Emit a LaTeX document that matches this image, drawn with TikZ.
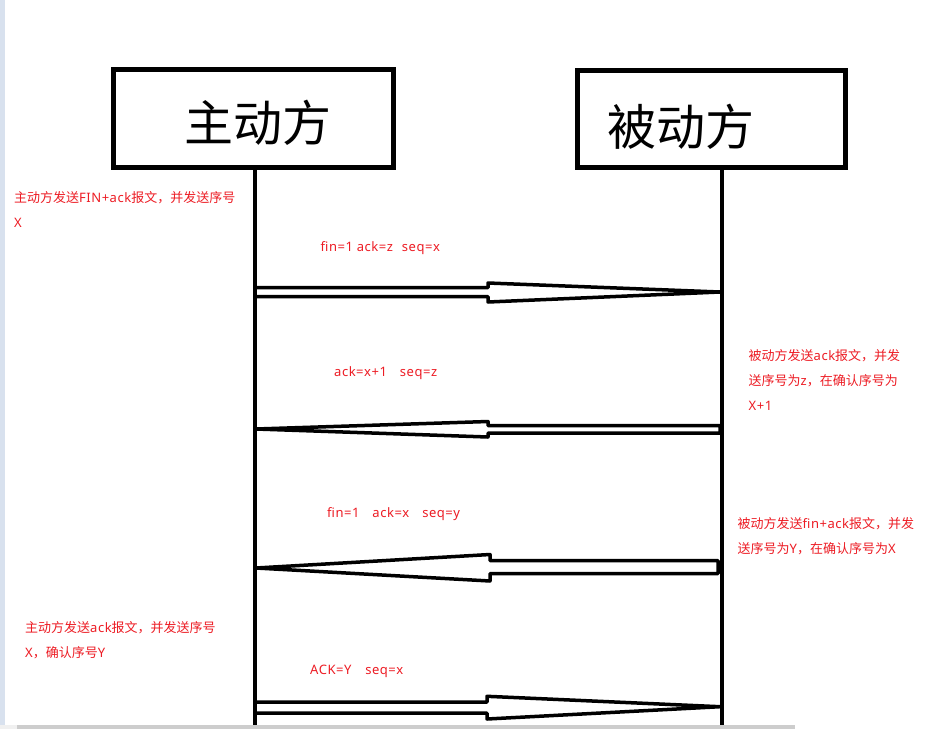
\documentclass[tikz,border=0pt]{standalone}
\usepackage{fontspec}
\newfontfamily\cjk{Noto Sans CJK SC}
\newfontfamily\lat[LetterSpace=4]{Noto Sans}
\definecolor{msred}{RGB}{237,28,36}
\definecolor{stripblue}{RGB}{216,225,238}
\definecolor{bargray}{RGB}{205,205,205}
\definecolor{barlight}{RGB}{240,240,240}
\begin{document}
\begin{tikzpicture}[x=1pt,y=-1pt,
  actor/.style={draw=black,line width=5pt,minimum width=280pt,minimum height=98pt,inner sep=0pt,fill=white},
  bigtxt/.style={font=\cjk\fontsize{49}{55}\selectfont,inner sep=0pt,anchor=center},
  note/.style={font=\cjk\fontsize{13}{25}\selectfont,text=msred,inner sep=0pt,anchor=base west,align=left},
  msg/.style={font=\lat\fontsize{13}{15}\selectfont,text=msred,inner sep=0pt,anchor=base west},
  life/.style={line width=4pt},
  arrowshape/.style={draw=black,line width=3.5pt,line join=round,fill=white}
]
\useasboundingbox (0,0) rectangle (945,729);
\fill[white] (0,0) rectangle (945,729);
% window chrome
\fill[stripblue] (0,0) rectangle (5,725);
\fill[barlight] (0,725) rectangle (17,729);
\fill[bargray] (17,725) rectangle (795,729);

% actors
\node[actor] (A) at (253,118) {};
\node[actor,minimum width=268pt,minimum height=97pt] (B) at (711,118.5) {};
\node[bigtxt] (At) at (258,122.5) {主动方};
\node[bigtxt] (Bt) at (681,127) {被动方};

% lifelines
\coordinate (Aend) at (255,725);
\coordinate (Bend) at (722,725);
\draw[life] (255,169) -- (Aend);
\draw[life] (722,169) -- (Bend);

% message 1 (shape pointing right)
\draw[arrowshape] (255,287.5) -- (488,287.5) -- (488,283) -- (720,292) -- (488,302) -- (488,296.5) -- (255,296.5);
% message 2 (pointing left)
\draw[arrowshape] (720,425.5) -- (488,425.5) -- (488,421.5) -- (256,429) -- (488,437) -- (488,433) -- (720,433) -- cycle;
% message 3 (pointing left)
\draw[arrowshape] (718,560.5) -- (490,560.5) -- (490,554.5) -- (256,568) -- (490,581) -- (490,573.5) -- (718,573.5) -- cycle;
% message 4 (pointing right)
\draw[arrowshape] (257,702) -- (487,702) -- (487,696.3) -- (720,706.7) -- (487,719) -- (487,713) -- (257,713);
\draw[life] (255,690) -- (Aend);
\draw[life] (255,280) -- (255,305);
\draw[life] (722,280) -- (722,305);
\draw[life] (722,415) -- (722,445);
\draw[life] (255,415) -- (255,445);
\draw[life] (722,550) -- (722,585);
\draw[life] (255,550) -- (255,585);
\draw[life] (722,690) -- (Bend);

% message labels
\node[msg] (m1) at (320.5,251) {fin=1 ack=z\hspace{9pt}seq=x};
\node[msg] (m2) at (334,376) {ack=x+1\hspace{13pt}seq=z};
\node[msg] (m3) at (327,517) {fin=1\hspace{13pt}ack=x\hspace{13pt}seq=y};
\node[msg] (m4) at (310,674) {ACK=Y\hspace{14pt}seq=x};

% notes (anchor at last line baseline)
\node[note] (n1) at (14,227) {主动方发送{\lat FIN+ack}报文，并发送序号\\{\lat X}};
\node[note] (n2) at (748.5,410.5) {被动方发送{\lat ack}报文，并发\\送序号为{\lat z}，在确认序号为\\{\lat X+1}};
\node[note] (n3) at (737.5,553.5) {被动方发送{\lat fin+ack}报文，并发\\送序号为{\lat Y}，在确认序号为{\lat X}};
\node[note] (n4) at (25,657) {主动方发送{\lat ack}报文，并发送序号\\{\lat X}，确认序号{\lat Y}};
\end{tikzpicture}
\end{document}
